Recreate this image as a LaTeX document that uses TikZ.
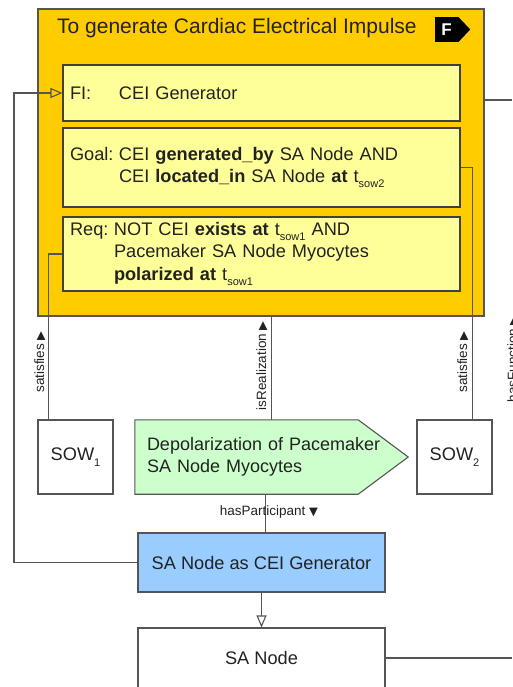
\documentclass[tikz,border=0pt]{standalone}
\usepackage{fontspec}
\setmainfont{Liberation Sans}
\newfontfamily\symf{DejaVu Sans}
\usetikzlibrary{arrows.meta,calc,backgrounds}
\definecolor{funcorange}{HTML}{FFCC00}
\definecolor{slotyellow}{HTML}{FFFF99}
\definecolor{procgreen}{HTML}{CCFFCC}
\definecolor{roleblue}{HTML}{99CCFF}
\definecolor{edgegray}{HTML}{555555}
\definecolor{inkdark}{HTML}{222222}
\newcommand\lowsub[1]{\raisebox{-0.55ex}{\fontsize{11}{11}\selectfont #1}}
\newcommand\bodyfont{\fontsize{18.2}{22.5}\selectfont}
\newcommand\labfont{\fontsize{13.5}{15}\selectfont}
\newcommand\uptri{\ {\symf\fontsize{11.5}{11.5}\selectfont ▶}}
\newcommand\downtri{\ {\symf\fontsize{11.5}{11.5}\selectfont ▼}}
\tikzset{
  funcbox/.style={draw=edgegray, line width=1.2pt, fill=funcorange, inner sep=0pt},
  slotbox/.style={draw=black!75, line width=1.1pt, fill=slotyellow, text=inkdark,
    align=left, inner xsep=7pt, inner ysep=0pt, text width=383pt,
    minimum width=397pt, font=\bodyfont},
  plainbox/.style={draw=edgegray, line width=1.1pt, fill=white, text=inkdark,
    inner sep=0pt, font=\bodyfont},
  link/.style={draw=edgegray, line width=1.1pt},
  openhead/.style={-{Triangle[open, length=12pt, width=10pt, line width=1.1pt]}},
  rellabel/.style={font=\labfont, text=inkdark, inner sep=0pt},
}
\begin{document}
\begin{tikzpicture}[x=1pt, y=-1pt]
\useasboundingbox (0,0) rectangle (512,687);
\clip (0,0) rectangle (512,687);

% function frame and its header
\node[funcbox, minimum width=446pt, minimum height=307pt] (outer) at (261,162.5) {};
\node[anchor=west, font=\fontsize{21}{24}\selectfont, text=inkdark, inner sep=0pt]
  (title) at (57,28) {To generate Cardiac Electrical Impulse};
\node[fill=black, text=white, inner sep=0pt, minimum width=23pt, minimum height=25pt,
  font=\fontsize{17}{17}\selectfont\bfseries] (ftag) at (446.5,29.5) {F};
\fill[black] (ftag.north east) -- ($(ftag.east)+(12,0)$) -- (ftag.south east) -- cycle;

% slots of the function
\node[slotbox, minimum height=56pt] (fi) at (261.5,93)
  {\makebox[49pt][l]{FI:}CEI Generator};
\node[slotbox, minimum height=79pt] (goal) at (261.5,167.5)
  {\makebox[49pt][l]{Goal:}CEI \textbf{generated\_by} SA Node AND\\
   \makebox[49pt]{}CEI \textbf{located\_in} SA Node \textbf{at} t\lowsub{sow2}};
\node[slotbox, minimum height=74pt] (req) at (261.5,254)
  {\makebox[44pt][l]{Req:}NOT CEI \textbf{exists at} t\lowsub{sow1} AND\\
   \makebox[44pt]{}Pacemaker SA Node Myocytes\\
   \makebox[44pt]{}\textbf{polarized at} t\lowsub{sow1}};

% states of the world
\node[plainbox, minimum width=75pt, minimum height=74pt] (sow1) at (75.5,457) {SOW\lowsub{1}};
\node[plainbox, minimum width=75pt, minimum height=74pt] (sow2) at (454.5,457) {SOW\lowsub{2}};

% process
\node[align=left, text width=249pt, inner xsep=12pt, inner ysep=0pt,
  minimum width=273pt, minimum height=74pt, font=\fontsize{18}{22}\selectfont, text=inkdark]
  (dep) at (271.5,457) {Depolarization of Pacemaker\\SA Node Myocytes};
\begin{pgfonlayer}{background}
\draw[draw=edgegray, line width=1.1pt, fill=procgreen]
  (dep.north west) -- ($(dep.north east)+(-50,0)$) -- (dep.east)
  -- ($(dep.south east)+(-50,0)$) -- (dep.south west) -- cycle;
\end{pgfonlayer}

% role and bearer
\node[plainbox, fill=roleblue, minimum width=247pt, minimum height=59pt] (role) at (261.5,562.5)
  {SA Node as CEI Generator};
\node[plainbox, minimum width=247pt, minimum height=60pt] (sanode) at (261.5,658) {SA Node};

% connectors
\coordinate (hf) at (512,100);
\coordinate (sa) at (512,658);
\draw[link, openhead] (role.west) -| (14,93) -- (fi.west);
\draw[link] (hf -| outer.east) -- (hf);
\draw[link] (sanode.east) -- (sa);
\draw[link] (req.west) -| ($(sow1.north west)+(11,0)$);
\draw[link] (goal.east) -| ($(sow2.north west)+(56,0)$);
\coordinate (realtop) at ($(dep.north west)+(137,0)$);
\draw[link] (realtop) -- (realtop |- outer.south);
\coordinate (partbot) at ($(dep.south west)+(131,0)$);
\draw[link] (partbot) -- (partbot |- role.north);
\draw[link, openhead] (role.south) -- (sanode.north);

% relation labels
\node[rellabel, rotate=90, anchor=east] (lsat1) at (40,331) {satisfies\uptri};
\node[rellabel, rotate=90, anchor=east] (lsat2) at (463,331) {satisfies\uptri};
\node[rellabel, rotate=90, anchor=east] (lreal) at (262,321) {isRealization\uptri};
\node[rellabel, rotate=90, anchor=east] (lfunc) at (513,316) {hasFunction\uptri};
\node[rellabel] (lpart) at (269,512) {hasParticipant\downtri};
\end{tikzpicture}
\end{document}
